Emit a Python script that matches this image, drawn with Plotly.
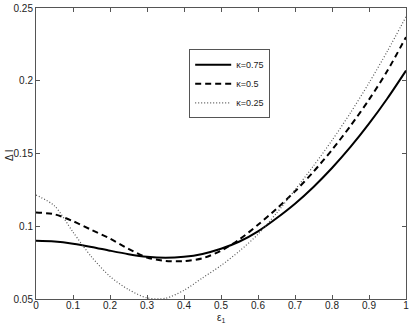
import plotly.graph_objects as go

eps1 = [0.0, 0.05, 0.1, 0.15, 0.2, 0.25, 0.3, 0.35, 0.4, 0.45, 0.5,
        0.55, 0.6, 0.65, 0.7, 0.75, 0.8, 0.85, 0.9, 0.95, 1.0]

kappa_075 = [0.0900, 0.0895, 0.0880, 0.0858, 0.0832, 0.0808, 0.0790, 0.0783, 0.0790, 0.0810, 0.0845,
             0.0895, 0.0965, 0.1055, 0.1155, 0.1270, 0.1400, 0.1545, 0.1705, 0.1880, 0.2070]
kappa_05 = [0.1095, 0.1082, 0.1035, 0.0975, 0.0915, 0.0845, 0.0785, 0.0762, 0.0760, 0.0780, 0.0832,
            0.0910, 0.1010, 0.1120, 0.1240, 0.1375, 0.1525, 0.1690, 0.1870, 0.2070, 0.2300]
kappa_025 = [0.1215, 0.1140, 0.0960, 0.0790, 0.0655, 0.0565, 0.0508, 0.0505, 0.0560, 0.0645, 0.0730,
             0.0830, 0.0945, 0.1090, 0.1250, 0.1415, 0.1590, 0.1780, 0.1985, 0.2205, 0.2440]

names = ["κ=0.75", "κ=0.5", "κ=0.25"]
x_ticks = [0, 0.1, 0.2, 0.3, 0.4, 0.5, 0.6, 0.7, 0.8, 0.9, 1]
x_ticklabels = ["0", "0.1", "0.2", "0.3", "0.4", "0.5", "0.6", "0.7", "0.8", "0.9", "1"]
y_ticks = [0.05, 0.1, 0.15, 0.2, 0.25]
y_ticklabels = ["0.05", "0.1", "0.15", "0.2", "0.25"]
x_title = "ε<sub>1</sub>"
y_title = "Δ I"

fig = go.Figure()
fig.add_trace(go.Scatter(x=eps1, y=kappa_075, mode="lines", name=names[0],
                         line=dict(color="black", width=2, shape="spline", smoothing=0.8)))
fig.add_trace(go.Scatter(x=eps1, y=kappa_05, mode="lines", name=names[1],
                         line=dict(color="black", width=2, dash="6px,4px", shape="spline", smoothing=0.8)))
fig.add_trace(go.Scatter(x=eps1, y=kappa_025, mode="lines", name=names[2],
                         line=dict(color="#555555", width=1.2, dash="1px,2px", shape="spline", smoothing=0.8)))

font = dict(family="Liberation Sans, Arial, sans-serif", size=10, color="#222222")

fig.update_layout(
    width=412, height=327,
    margin=dict(l=36, r=6, t=8, b=28, autoexpand=False),
    paper_bgcolor="white", plot_bgcolor="white",
    font=font,
    showlegend=True,
    legend=dict(x=0.414, y=0.858, xanchor="left", yanchor="top",
                bgcolor="white", bordercolor="#555555", borderwidth=1,
                font=dict(family="Liberation Sans, Arial, sans-serif", size=9, color="#222222"),
                itemwidth=36, tracegroupgap=0),
    xaxis=dict(range=[0, 1], tickvals=x_ticks, ticktext=x_ticklabels,
               ticks="inside", ticklen=4, tickcolor="#555555",
               showline=True, linecolor="#555555", linewidth=1, mirror="ticks",
               showgrid=False, zeroline=False, automargin=False,
               ticklabelstandoff=-3),
    yaxis=dict(range=[0.05, 0.25], tickvals=y_ticks, ticktext=y_ticklabels,
               ticks="inside", ticklen=4, tickcolor="#555555",
               showline=True, linecolor="#555555", linewidth=1, mirror="ticks",
               showgrid=False, zeroline=False, automargin=False),
    annotations=[
        dict(text=x_title, xref="paper", yref="paper", x=0.5, y=-0.067,
             xanchor="center", yanchor="middle", showarrow=False,
             font=dict(size=10, color="#222222")),
        dict(text=y_title, xref="paper", yref="paper", x=-0.07, y=0.495,
             xanchor="center", yanchor="middle", showarrow=False, textangle=-90,
             font=dict(size=10, color="#222222")),
    ],
)

fig.write_html("out.html", config={"displayModeBar": False},
               post_script="document.body.style.margin='0';document.body.style.padding='0';document.body.style.overflow='hidden';")
